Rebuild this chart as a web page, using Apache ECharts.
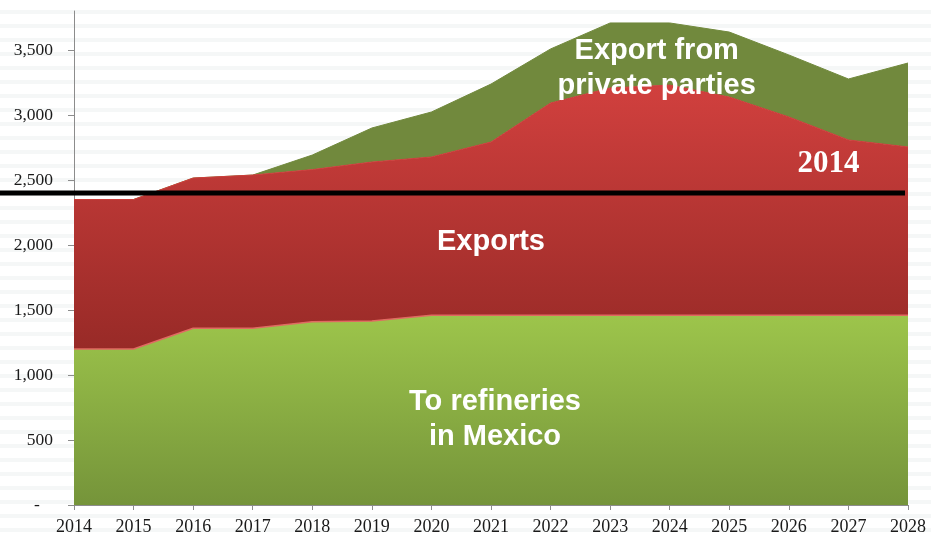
<!DOCTYPE html>
<html>
<head>
<meta charset="utf-8">
<script src="https://cdn.jsdelivr.net/npm/echarts@6/dist/echarts.min.js"></script>
<style>
  html, body { margin: 0; padding: 0; }
  body {
    background: repeating-linear-gradient(180deg, #ffffff 0px, #ffffff 10px, #f5f7f7 10px, #f5f7f7 14px);
  }
  #main { width: 931px; height: 538px; }
</style>
</head>
<body>
<div id="main"></div>
<script>
// years on the x axis
const years = ['2014', '2015', '2016', '2017', '2018', '2019', '2020', '2021', '2022', '2023', '2024', '2025', '2026', '2027', '2028']
// stacked parts
const refineries = [1200, 1200, 1360, 1360, 1410, 1415, 1460, 1460, 1460, 1460, 1460, 1460, 1460, 1460, 1460]
const exportsPemex = [1150, 1150, 1155, 1178, 1170, 1223, 1217, 1332, 1632, 1748, 1770, 1678, 1525, 1348, 1294]
const privateExports = [0, 0, 0, 0, 112, 262, 346, 446, 416, 500, 478, 500, 477, 469, 646]
const yTicks = [0, 500, 1000, 1500, 2000, 2500, 3000, 3500]
const refLevel = 2400

const chart = echarts.init(document.getElementById('main'))

const grad = (top, bottom) => new echarts.graphic.LinearGradient(0, 0, 0, 1, [
  { offset: 0, color: top },
  { offset: 1, color: bottom }
])

const option = {
  animation: false,
  backgroundColor: 'transparent',
  grid: { left: 74, right: 23, top: 11, bottom: 33 },
  xAxis: {
    type: 'category',
    data: years,
    boundaryGap: false,
    axisLine: { lineStyle: { color: '#8c8c8c', width: 1 } },
    axisTick: { show: true, length: 5, alignWithLabel: true, lineStyle: { color: '#8c8c8c' } },
    axisLabel: { color: '#1a1a1a', fontFamily: 'Liberation Serif', fontSize: 18, margin: 13, interval: 0 },
    splitLine: { show: false }
  },
  yAxis: {
    type: 'value',
    min: 0,
    max: 3800,
    interval: 500,
    axisLine: { show: true, lineStyle: { color: '#8c8c8c', width: 1 } },
    axisTick: { show: true, length: 6, customValues: yTicks, lineStyle: { color: '#8c8c8c' } },
    axisLabel: {
      customValues: yTicks,
      color: '#1a1a1a', fontFamily: 'Liberation Serif', fontSize: 17.5, margin: 21,
      formatter: v => v === 0 ? '-   ' : v.toLocaleString('en-US')
    },
    splitLine: { show: false }
  },
  series: [
    {
      name: 'To refineries in Mexico',
      type: 'line',
      stack: 'total',
      data: refineries,
      symbol: 'none',
      lineStyle: { color: '#e06a62', width: 1.5 },
      areaStyle: { color: grad('#9dc54b', '#75943a'), opacity: 1 },
      z: 3
    },
    {
      name: 'Exports',
      type: 'line',
      stack: 'total',
      data: exportsPemex,
      symbol: 'none',
      lineStyle: { color: '#cc3e3b', width: 1 },
      areaStyle: { color: grad('#d1403e', '#982a27'), opacity: 1 },
      z: 2
    },
    {
      name: 'Export from private parties',
      type: 'line',
      stack: 'total',
      data: privateExports,
      symbol: 'none',
      lineStyle: { color: '#71893d', width: 1 },
      areaStyle: { color: '#71893d', opacity: 1 },
      z: 1
    }
  ]
}

chart.setOption(option)

// annotations placed through the chart's own scales
const px = (x, y) => chart.convertToPixel({ gridIndex: 0 }, [x, y])
const lineY = px(0, refLevel)[1]
const lineEnd = px(years.length - 1, refLevel)[0] - 3
const labelStyle = {
  fill: '#ffffff',
  font: 'bold 29px "Liberation Sans", Arial, sans-serif',
  textAlign: 'center',
  textVerticalAlign: 'middle',
  lineHeight: 35
}
const exportsPos = px(7, 2020)
const refPos = px(7, 661)
const privPos = px(10, 3357)
const yearPos = px(13, 2620)

chart.setOption({
  graphic: [
    {
      type: 'line',
      shape: { x1: 0, y1: lineY, x2: lineEnd, y2: lineY },
      style: { stroke: '#000000', lineWidth: 5 },
      z: 100
    },
    {
      type: 'text', x: exportsPos[0], y: exportsPos[1],
      style: Object.assign({}, labelStyle, { text: 'Exports' }), z: 100
    },
    {
      type: 'text', x: refPos[0] + 4, y: refPos[1],
      style: Object.assign({}, labelStyle, { text: 'To refineries\nin Mexico' }), z: 100
    },
    {
      type: 'text', x: privPos[0] - 13, y: privPos[1],
      style: Object.assign({}, labelStyle, { text: 'Export from\nprivate parties' }), z: 100
    },
    {
      type: 'text', x: yearPos[0] - 20, y: yearPos[1],
      style: {
        text: '2014', fill: '#ffffff',
        font: 'bold 31px "Liberation Serif", "Times New Roman", serif',
        textAlign: 'center', textVerticalAlign: 'middle'
      },
      z: 100
    }
  ]
})

window.addEventListener('resize', () => chart.resize())
</script>
</body>
</html>
